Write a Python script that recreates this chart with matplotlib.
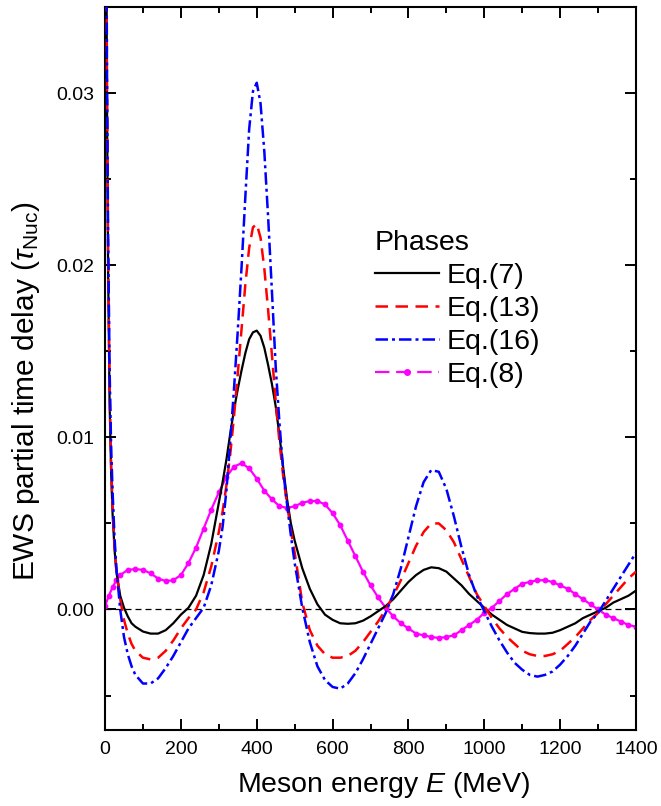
import matplotlib
matplotlib.use("Agg")
import matplotlib.pyplot as plt
from matplotlib.lines import Line2D
from matplotlib.ticker import MultipleLocator, FormatStrFormatter

plt.rcParams['font.family'] = ['Liberation Sans', 'DejaVu Sans']
plt.rcParams['mathtext.fontset'] = 'custom'
plt.rcParams['mathtext.rm'] = 'Liberation Sans'
plt.rcParams['mathtext.it'] = 'Liberation Sans:italic'

# Meson energy (MeV) for the three phase curves
energy = [2, 5, 8, 12, 16, 20, 25, 30, 40, 50, 60, 70, 80,
          100, 120, 140, 160, 180, 200, 220, 240, 260, 280, 300,
          310, 320, 330, 340, 350, 360, 370, 380, 390, 400,
          410, 420, 430, 440, 450, 460, 470, 480, 490,
          500, 520, 540, 560, 580, 600, 620, 640, 660, 680, 700,
          720, 740, 760, 780, 800, 820, 840, 860, 880, 900,
          920, 940, 960, 980, 1000, 1020, 1040, 1060, 1080, 1100,
          1120, 1140, 1160, 1180, 1200, 1220, 1240, 1260, 1280, 1300,
          1320, 1340, 1360, 1380, 1400]

# Eq.(7)
delay_eq7 = [0.050, 0.030, 0.020, 0.012, 0.008, 0.0055, 0.0035, 0.0022, 0.0008, 0.0001, -0.0004, -0.0008, -0.0010,
             -0.00128, -0.0014, -0.0014, -0.0012, -0.0008, -0.0003, 0.0001, 0.0008, 0.0020, 0.0038, 0.0062,
             0.0074, 0.0087, 0.0102, 0.0116, 0.0128, 0.0139, 0.0149, 0.0157, 0.0161, 0.0162,
             0.0159, 0.0152, 0.0142, 0.0131, 0.0118, 0.0101, 0.0082, 0.0064, 0.0050,
             0.0040, 0.0024, 0.0012, 0.0003, -0.0003, -0.0006, -0.0008, -0.00083, -0.0008, -0.00065, -0.0004,
             -0.0001, 0.0002, 0.0006, 0.0011, 0.0016, 0.0020, 0.0023, 0.00245, 0.0024, 0.0022,
             0.0018, 0.0014, 0.0009, 0.0005, 0.0001, -0.0003, -0.0006, -0.0009, -0.0011, -0.0013,
             -0.00137, -0.0014, -0.0014, -0.00135, -0.0012, -0.0010, -0.0008, -0.0005, -0.0003, -0.0001,
             0.0001, 0.0004, 0.0006, 0.0008, 0.0011]

# Eq.(13)
delay_eq13 = [0.050, 0.031, 0.021, 0.013, 0.0085, 0.006, 0.0037, 0.0022, 0.0006, -0.0006, -0.0014, -0.0020, -0.0024,
              -0.0028, -0.0029, -0.0028, -0.0024, -0.0018, -0.0011, -0.0005, 0.0000, 0.0010, 0.0025, 0.0045,
              0.0057, 0.0072, 0.0090, 0.0112, 0.0137, 0.0163, 0.0189, 0.0210, 0.0222, 0.0224,
              0.0216, 0.0198, 0.0174, 0.0148, 0.0121, 0.0097, 0.0077, 0.0061, 0.0046,
              0.0033, 0.0004, -0.0012, -0.0021, -0.0026, -0.0028, -0.0028, -0.0027, -0.0024, -0.0019, -0.0013,
              -0.0007, 0.0000, 0.0008, 0.0017, 0.0027, 0.0037, 0.0045, 0.0050, 0.0050, 0.0046,
              0.0039, 0.0029, 0.0019, 0.0009, 0.0002, -0.0005, -0.0011, -0.0016, -0.0020, -0.0024,
              -0.0026, -0.0027, -0.0027, -0.0026, -0.0024, -0.0020, -0.0016, -0.0011, -0.0006, -0.0002,
              0.0003, 0.0008, 0.0013, 0.0018, 0.0022]

# Eq.(16)
delay_eq16 = [0.050, 0.032, 0.022, 0.014, 0.0095, 0.0068, 0.0042, 0.0024, 0.0000, -0.0016, -0.0026, -0.0033, -0.0038,
              -0.0043, -0.0043, -0.0040, -0.0034, -0.0027, -0.0019, -0.0011, -0.0005, 0.0001, 0.0014, 0.0034,
              0.0048, 0.0069, 0.0097, 0.0128, 0.0162, 0.0199, 0.0240, 0.0279, 0.0301, 0.0306,
              0.0294, 0.0266, 0.0228, 0.0185, 0.0141, 0.0108, 0.0080, 0.0061, 0.0043,
              0.0027, 0.0001, -0.0019, -0.0033, -0.0041, -0.0045, -0.0046, -0.0043, -0.0037, -0.0029, -0.0020,
              -0.0011, -0.0002, 0.0009, 0.0024, 0.0042, 0.0060, 0.0074, 0.0081, 0.0080, 0.0070,
              0.0054, 0.0036, 0.0020, 0.0008, -0.0001, -0.0010, -0.0018, -0.0025, -0.0031, -0.0035,
              -0.0038, -0.0039, -0.0038, -0.0036, -0.0032, -0.0027, -0.0021, -0.0014, -0.0007, -0.0002,
              0.0005, 0.0012, 0.0019, 0.0026, 0.0033]

# Eq.(8), sampled on its own grid (dots)
energy_eq8 = [0, 10, 20, 30, 40, 60, 80, 100, 120, 140, 160, 180, 200, 220, 240, 260, 280, 300,
              320, 340, 360, 380, 400, 420, 440, 460, 480, 500, 520, 540, 560, 580, 600,
              620, 640, 660, 680, 700, 720, 740, 760, 780, 800, 820, 840, 860, 880, 900,
              920, 940, 960, 980, 1000, 1020, 1040, 1060, 1080, 1100, 1120, 1140, 1160, 1180, 1200,
              1220, 1240, 1260, 1280, 1300, 1320, 1340, 1360, 1380, 1400]
delay_eq8 = [0.0002, 0.0008, 0.0013, 0.0017, 0.0020, 0.0023, 0.00235, 0.0023, 0.0021, 0.0018, 0.00165, 0.0017, 0.0020,
             0.0027, 0.0036, 0.0047, 0.0058, 0.0068,
             0.0077, 0.0083, 0.0085, 0.0082, 0.0076, 0.0069, 0.0064, 0.0060, 0.0059, 0.0060, 0.0062, 0.0063, 0.0063,
             0.0061, 0.0056,
             0.0049, 0.0040, 0.0031, 0.0022, 0.0014, 0.0007, 0.0001, -0.0004, -0.0008, -0.0011, -0.0014, -0.0015,
             -0.0016, -0.00165, -0.0016,
             -0.0015, -0.0012, -0.0009, -0.0006, -0.0002, 0.0001, 0.0005, 0.0009, 0.0012, 0.0015, 0.0016, 0.0017,
             0.0017, 0.0016, 0.0014,
             0.0012, 0.0009, 0.0006, 0.0003, 0.0000, -0.0003, -0.0005, -0.0007, -0.0009, -0.0010]

labels = ['Eq.(7)', 'Eq.(13)', 'Eq.(16)', 'Eq.(8)']

fig = plt.figure(figsize=(6.61, 8.06), dpi=100)
ax = fig.add_axes([0.1589, 0.0943, 0.8033, 0.8970])

ax.axhline(0, color='black', linewidth=0.9, linestyle=(0, (4.8, 3.2)), zorder=1)

ax.plot(energy_eq8, delay_eq8, color='#ff00ff', linewidth=1.6, marker='o', markersize=3.2, zorder=2)
ax.plot(energy, delay_eq7, color='black', linewidth=1.6, zorder=3)
ax.plot(energy, delay_eq13, color='#ff0000', linewidth=1.8, linestyle=(0, (5.0, 3.0)), zorder=4)
ax.plot(energy, delay_eq16, color='#0000ff', linewidth=1.8, linestyle=(0, (5.0, 1.6, 1.2, 1.6)), zorder=5)

ax.set_xlim(0, 1400)
ax.set_ylim(-0.007, 0.035)

ax.xaxis.set_major_locator(MultipleLocator(200))
ax.xaxis.set_minor_locator(MultipleLocator(100))
ax.yaxis.set_major_locator(MultipleLocator(0.01))
ax.yaxis.set_minor_locator(MultipleLocator(0.005))
ax.yaxis.set_major_formatter(FormatStrFormatter('%.2f'))

ax.tick_params(which='both', direction='in', top=True, right=True, labelsize=14, width=1.4)
ax.tick_params(which='major', length=8, pad=8)
ax.tick_params(which='minor', length=4.5)
for sp in ax.spines.values():
    sp.set_linewidth(1.5)

ax.set_xlabel('Meson energy $\\mathit{E}$ (MeV)', fontsize=20.5)
ax.set_ylabel('EWS partial time delay ($\\tau_{\\mathrm{Nuc}}$)', fontsize=21.5)
ax.xaxis.set_label_coords(0.5245, -0.056)
ax.yaxis.set_label_coords(-0.118, 0.468)

handles = [
    Line2D([], [], color='black', linewidth=1.6),
    Line2D([], [], color='#ff0000', linewidth=1.8, linestyle=(0, (5.0, 3.0))),
    Line2D([], [], color='#0000ff', linewidth=1.8, linestyle=(0, (5.0, 1.6, 1.2, 1.6))),
    Line2D([], [], color='#ff00ff', linewidth=1.6, linestyle=(0, (6.5, 3.0)), marker='o', markersize=4),
]
leg = ax.legend(handles, labels, title='Phases', loc='upper left', bbox_to_anchor=(0.508, 0.692),
                frameon=False, fontsize=20.5, title_fontsize=20.5, handlelength=2.25, handletextpad=0.28,
                labelspacing=0.25, numpoints=1, alignment='left', borderaxespad=0, borderpad=0)

fig.savefig('out.png', dpi=100)
